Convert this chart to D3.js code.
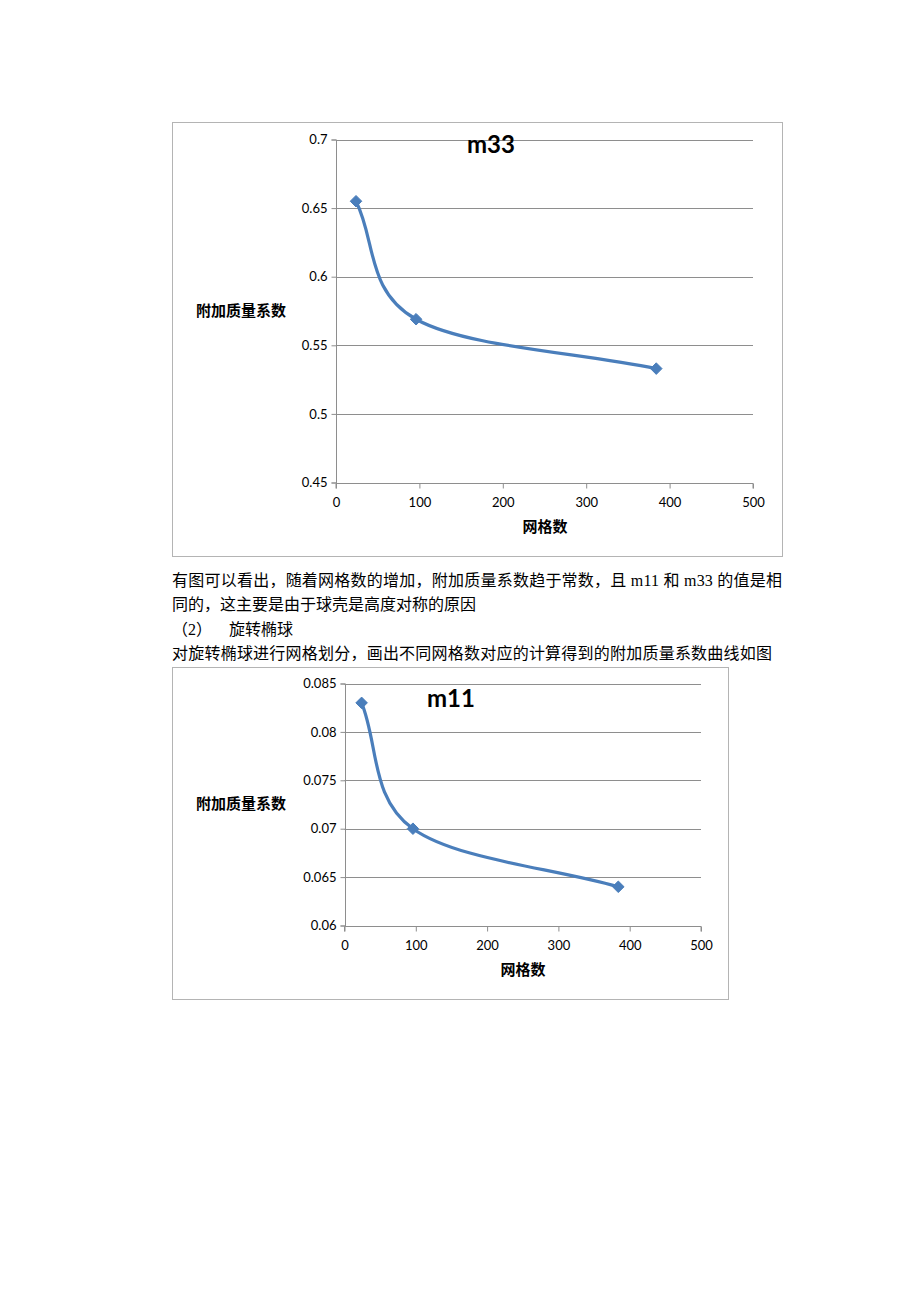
<!DOCTYPE html>
<html>
<head>
<meta charset="utf-8">
<script src="https://cdn.jsdelivr.net/npm/d3@7"></script>
<style>
  html, body { margin: 0; padding: 0; background: #fff; }
  svg { display: block; }
</style>
</head>
<body>
<script>
// ---------- data ----------
const meshCounts = [24, 96, 384];
const m33Values = [0.655, 0.569, 0.533];
const m11Values = [0.083, 0.070, 0.064];

const xTicks = [0, 100, 200, 300, 400, 500];
const yTicksM33 = [0.45, 0.5, 0.55, 0.6, 0.65, 0.7];
const yTickLabelsM33 = ["0.45", "0.5", "0.55", "0.6", "0.65", "0.7"];
const yTicksM11 = [0.06, 0.065, 0.07, 0.075, 0.08, 0.085];
const yTickLabelsM11 = ["0.06", "0.065", "0.07", "0.075", "0.08", "0.085"];

const yAxisTitle = "附加质量系数";
const xAxisTitle = "网格数";

const paragraphLines = [
  "有图可以看出，随着网格数的增加，附加质量系数趋于常数，且 m11 和 m33 的值是相",
  "同的，这主要是由于球壳是高度对称的原因",
  "（2）",
  "旋转椭球",
  "对旋转椭球进行网格划分，画出不同网格数对应的计算得到的附加质量系数曲线如图"
];

// ---------- drawing ----------
const W = 920, H = 1302;
const svg = d3.select("body").append("svg").attr("width", W).attr("height", H);
svg.append("rect").attr("width", W).attr("height", H).attr("fill", "#fff");

const latin = "Lato, 'Noto Sans CJK SC', sans-serif";
const cjk = "'Noto Sans CJK SC', sans-serif";
const blue = "#4A7EBB";
const gridCol = "#8e8e8e";

// Excel-style smoothed line: cubic Bezier through points,
// interior tangents (P[i+1]-P[i-1])/2, end tangents one-sided.
function smoothPath(pts) {
  const n = pts.length;
  const T = pts.map((p, i) => {
    if (i === 0) return [pts[1][0] - p[0], pts[1][1] - p[1]];
    if (i === n - 1) return [p[0] - pts[i - 1][0], p[1] - pts[i - 1][1]];
    return [(pts[i + 1][0] - pts[i - 1][0]) / 2, (pts[i + 1][1] - pts[i - 1][1]) / 2];
  });
  const path = d3.path();
  path.moveTo(pts[0][0], pts[0][1]);
  for (let i = 0; i < n - 1; i++) {
    const a = pts[i], b = pts[i + 1];
    path.bezierCurveTo(a[0] + T[i][0] / 3, a[1] + T[i][1] / 3,
                       b[0] - T[i + 1][0] / 3, b[1] - T[i + 1][1] / 3,
                       b[0], b[1]);
  }
  return path.toString();
}

function drawChart(cfg) {
  const g = svg.append("g");
  // frame
  g.append("rect")
    .attr("x", cfg.frame[0] + 0.5).attr("y", cfg.frame[1] + 0.5)
    .attr("width", cfg.frame[2] - cfg.frame[0]).attr("height", cfg.frame[3] - cfg.frame[1])
    .attr("fill", "none").attr("stroke", "#b4b4b4").attr("stroke-width", 1);

  const x = d3.scaleLinear().domain([0, 500]).range([cfg.plot[0], cfg.plot[2]]);
  const y = d3.scaleLinear().domain(cfg.yDomain).range([cfg.plot[3], cfg.plot[1]]);

  // gridlines
  g.selectAll(".grid").data(cfg.yTicks.slice(1)).enter().append("line")
    .attr("x1", cfg.plot[0]).attr("x2", cfg.plot[2])
    .attr("y1", d => Math.round(y(d)) + 0.5).attr("y2", d => Math.round(y(d)) + 0.5)
    .attr("stroke", gridCol).attr("stroke-width", 1);

  // axes
  const yAxis = d3.axisLeft(y).tickValues(cfg.yTicks)
    .tickFormat((d, i) => cfg.yLabels[i]).tickSize(5).tickPadding(4);
  const ya = g.append("g").attr("transform", `translate(${Math.round(cfg.plot[0]) + 0.5},0)`).call(yAxis);
  const xAxis = d3.axisBottom(x).tickValues(xTicks).tickSize(5).tickPadding(9)
    .tickFormat(d => String(d));
  const xa = g.append("g").attr("transform", `translate(0,${Math.round(cfg.plot[3]) + 0.5})`).call(xAxis);
  [ya, xa].forEach(a => {
    a.select(".domain").attr("stroke", gridCol);
    a.selectAll(".tick line").attr("stroke", gridCol);
    a.selectAll(".tick text").attr("fill", "#000")
      .style("font-family", latin).style("font-size", "13px");
  });
  ya.select(".domain").attr("d", `M-5,${Math.round(cfg.plot[3])}H0V${Math.round(cfg.plot[1])}H-5`);
  xa.select(".domain").attr("d", `M${cfg.plot[0]},5V0H${cfg.plot[2]}V5`);

  // smoothed line
  const pts = meshCounts.map((m, i) => [x(m), y(cfg.values[i])]);
  g.append("path")
    .attr("d", smoothPath(pts))
    .attr("fill", "none").attr("stroke", blue).attr("stroke-width", 3.2)
    .attr("stroke-linecap", "round");

  // diamond markers
  g.selectAll(".mk").data(pts).enter().append("path")
    .attr("d", d3.symbol().type(d3.symbolDiamond2).size(85))
    .attr("transform", d => `translate(${d[0]},${d[1]})`)
    .attr("fill", blue).attr("stroke", blue).attr("stroke-width", 1);

  // chart title
  g.append("text").attr("x", cfg.titlePos[0]).attr("y", cfg.titlePos[1])
    .attr("text-anchor", "middle").attr("dominant-baseline", "central")
    .style("font-family", latin).style("font-weight", "bold").style("font-size", "24px")
    .text(cfg.title);

  // axis titles
  g.append("text").attr("x", cfg.yTitlePos[0]).attr("y", cfg.yTitlePos[1])
    .attr("text-anchor", "middle").attr("dominant-baseline", "central")
    .style("font-family", cjk).style("font-weight", "bold").style("font-size", "15px")
    .text(yAxisTitle);
  g.append("text").attr("x", cfg.xTitlePos[0]).attr("y", cfg.xTitlePos[1])
    .attr("text-anchor", "middle").attr("dominant-baseline", "central")
    .style("font-family", cjk).style("font-weight", "bold").style("font-size", "15px")
    .text(xAxisTitle);
}

drawChart({
  frame: [172, 122, 782, 556],
  plot: [336, 139.5, 753, 482.5],
  yDomain: [0.45, 0.7],
  yTicks: yTicksM33, yLabels: yTickLabelsM33,
  values: m33Values,
  title: "m33", titlePos: [491, 143],
  yTitlePos: [241, 309],
  xTitlePos: [545, 525]
});

drawChart({
  frame: [172, 667, 728, 999],
  plot: [344.5, 683.5, 701, 925.5],
  yDomain: [0.06, 0.085],
  yTicks: yTicksM11, yLabels: yTickLabelsM11,
  values: m11Values,
  title: "m11", titlePos: [451, 697],
  yTitlePos: [241, 802],
  xTitlePos: [523, 968]
});

// paragraph text
const bodyFont = "'Liberation Serif', 'Noto Sans CJK SC', serif";
function bodyText(str, xPos, yPos, len) {
  const t = svg.append("text").attr("x", xPos).attr("y", yPos)
    .style("font-family", bodyFont).style("font-size", "16px").attr("fill", "#000")
    .text(str);
  if (len) t.attr("textLength", len).attr("lengthAdjust", "spacing");
  return t;
}
bodyText(paragraphLines[0], 172, 586, 610);
bodyText(paragraphLines[1], 172, 610);
bodyText(paragraphLines[2], 172, 635);
bodyText(paragraphLines[3], 229, 635);
bodyText(paragraphLines[4], 172, 659, 600);
</script>
</body>
</html>
